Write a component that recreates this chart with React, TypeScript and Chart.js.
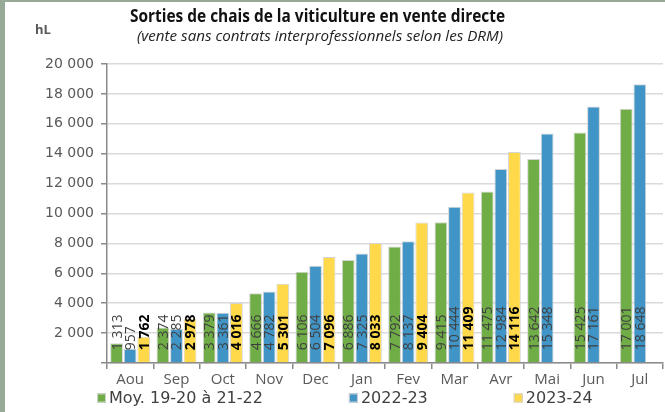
import React, { useEffect, useRef } from "react";
import { Chart, registerables } from "chart.js";

Chart.register(...registerables);

const months = ["Aou", "Sep", "Oct", "Nov", "Dec", "Jan", "Fev", "Mar", "Avr", "Mai", "Jun", "Jul"];
const seriesNames = ["Moy. 19-20 à 21-22", "2022-23", "2023-24"];
const avg1922 = [1313, 2374, 3379, 4666, 6106, 6886, 7792, 9415, 11475, 13642, 15425, 17001];
const y2223 = [957, 2285, 3361, 4782, 6504, 7325, 8137, 10444, 12984, 15348, 17161, 18648];
const y2324 = [1762, 2978, 4016, 5301, 7096, 8033, 9404, 11409, 14116, null, null, null];
const yTicks = [0, 2000, 4000, 6000, 8000, 10000, 12000, 14000, 16000, 18000, 20000];

const title = "Sorties de chais de la viticulture en vente directe";
const subtitle = "(vente sans contrats interprofessionnels selon les DRM)";
const unit = "hL";

const colors = ["#70ad47", "#4195c6", "#ffd94a"];
const labelStyles = [
  { color: "#3f3f3f", weight: "normal" },
  { color: "#3f3f3f", weight: "normal" },
  { color: "#000000", weight: "bold" },
];

const fmt = (v: number) => String(v).replace(/\B(?=(\d{3})+(?!\d))/g, " ");

const decorPlugin = {
  id: "decor",
  afterDatasetsDraw(chart: any) {
    const ctx = chart.ctx;
    chart.data.datasets.forEach((ds: any, i: number) => {
      const meta = chart.getDatasetMeta(i);
      const st = labelStyles[i];
      meta.data.forEach((el: any, j: number) => {
        const v = ds.data[j];
        if (v === null || v === undefined) return;
        ctx.save();
        ctx.translate(el.x, el.base - 12);
        ctx.rotate(-Math.PI / 2);
        ctx.font = `${st.weight} 14px "Open Sans"`;
        ctx.fillStyle = st.color;
        ctx.textAlign = "left";
        ctx.textBaseline = "middle";
        ctx.fillText(fmt(v), 0, 1);
        ctx.restore();
      });
    });
  },
  afterDraw(chart: any) {
    const ctx = chart.ctx;
    const drawFit = (text: string, font: string, x0: number, width: number, y: number, color: string) => {
      ctx.save();
      ctx.font = font;
      const w = ctx.measureText(text).width;
      ctx.translate(x0, y);
      ctx.scale(width / w, 1);
      ctx.fillStyle = color;
      ctx.textAlign = "left";
      ctx.textBaseline = "alphabetic";
      ctx.fillText(text, 0, 0);
      ctx.restore();
    };
    drawFit(title, 'bold 17px "Open Sans"', 125, 375, 20, "#111111");
    drawFit(subtitle, 'italic 14px "Open Sans"', 132, 366, 39, "#222222");
    ctx.save();
    ctx.font = 'bold 13px "Open Sans"';
    ctx.fillStyle = "#595959";
    ctx.textBaseline = "middle";
    ctx.textAlign = "left";
    ctx.fillText(unit, 30, 28);
    ctx.restore();

    // legend
    ctx.save();
    ctx.font = '16px "DejaVu Sans"';
    const box = 9;
    const gapText = 3;
    const gapItem = 86;
    const widths = chart.data.datasets.map((d: any) => box + gapText + ctx.measureText(d.label).width);
    const total = widths.reduce((a: number, b: number) => a + b, 0) + gapItem * (widths.length - 1);
    let x = Math.round(340 - total / 2);
    const yc = 396;
    chart.data.datasets.forEach((d: any, i: number) => {
      ctx.fillStyle = d.backgroundColor;
      ctx.fillRect(x, yc - box / 2, box, box);
      ctx.strokeStyle = "#d0d0d0";
      ctx.lineWidth = 1;
      ctx.strokeRect(x + 0.5, yc - box / 2 + 0.5, box - 1, box - 1);
      ctx.fillStyle = "#404040";
      ctx.textBaseline = "middle";
      ctx.textAlign = "left";
      ctx.fillText(d.label, x + box + gapText, yc + 1);
      x += widths[i] + gapItem;
    });
    ctx.restore();
  },
};

export default function App() {
  const ref = useRef<HTMLCanvasElement | null>(null);
  useEffect(() => {
    document.body.style.margin = "0";
    const canvas = ref.current;
    if (!canvas) return;
    const chart = new Chart(canvas, {
      type: "bar",
      data: {
        labels: months,
        datasets: [avg1922, y2223, y2324].map((d, i) => ({
          label: seriesNames[i],
          data: d,
          backgroundColor: colors[i],
          borderColor: "#d4d4d4",
          borderWidth: 1,
          categoryPercentage: 0.88,
          barPercentage: 0.94,
        })),
      },
      options: {
        animation: false,
        responsive: false,
        maintainAspectRatio: false,
        layout: { padding: { top: 62, left: 40, right: 2, bottom: 21 } },
        plugins: {
          legend: { display: false },
          title: { display: false },
          tooltip: { enabled: false },
        },
        scales: {
          x: {
            offset: true,
            grid: {
              display: true,
              offset: true,
              drawOnChartArea: false,
              drawTicks: true,
              tickLength: 6,
              tickColor: "#8a8a8a",
              lineWidth: 1.5,
            },
            border: { display: true, color: "#8a8a8a", width: 1.5 },
            ticks: {
              font: { family: "Open Sans", size: 15 },
              color: "#595959",
              padding: 2,
              maxRotation: 0,
              autoSkip: false,
            },
          },
          y: {
            min: 0,
            max: 20000,
            afterBuildTicks: (scale: any) => {
              scale.ticks = yTicks.map((v) => ({ value: v }));
            },
            afterFit: (scale: any) => {
              scale.width = 62;
            },
            grid: {
              color: "#dadada",
              lineWidth: 1.5,
              drawTicks: true,
              tickLength: 6,
              tickColor: "#8a8a8a",
            },
            border: { display: true, color: "#8a8a8a", width: 1.5 },
            ticks: {
              font: { family: "DejaVu Sans", size: 14 },
              color: "#595959",
              padding: 7,
              callback: (v: any) => (Number(v) === 0 ? "" : fmt(Number(v))),
            },
          },
        },
      },
      plugins: [decorPlugin],
    });
    return () => chart.destroy();
  }, []);

  return (
    <div
      style={{
        width: 665,
        height: 412,
        boxSizing: "border-box",
        borderLeft: "5px solid #97aa97",
        borderTop: "2px solid #97aa97",
        background: "#ffffff",
        overflow: "hidden",
      }}
    >
      <canvas ref={ref} width={660} height={410} style={{ display: "block", width: 660, height: 410 }} />
    </div>
  );
}
